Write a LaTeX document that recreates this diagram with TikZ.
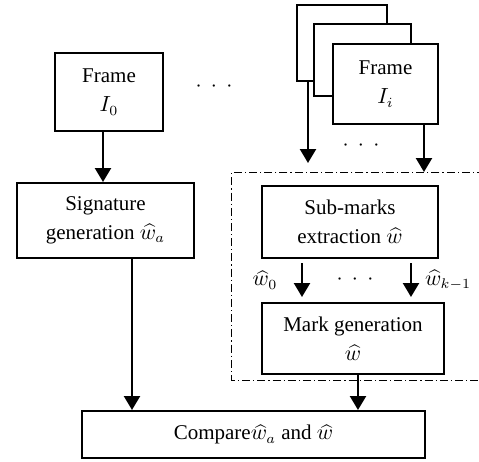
\documentclass[tikz,border=0pt]{standalone}
\usepackage{fontspec}
\setmainfont{Liberation Serif}
\usetikzlibrary{arrows.meta}
\newcommand{\mydots}{$\cdot\hspace{2.2pt}\cdot\hspace{2.2pt}\cdot$}
\begin{document}
\begin{tikzpicture}[x=0.5pt,y=-0.5pt,
  box/.style={draw,line width=1pt,fill=white,inner sep=0pt,align=center,
    font=\fontsize{10.5}{14.5}\selectfont},
  arr/.style={line width=1.2pt,-{Triangle[width=8pt,length=7pt]}},
  grp/.style={line width=0.5pt,dash pattern=on 4pt off 1.5pt on 0.6pt off 1.5pt},
  lbl/.style={inner sep=0pt,font=\fontsize{10.5}{12}\selectfont}]
\useasboundingbox (0,0) rectangle (479,462);
% group rectangle (right edge beyond picture)
\draw[grp] (485,172) -- (232,172) -- (232,380) -- (485,380);
% left column
\node[box,minimum width=54pt,minimum height=39pt] (f0) at (109,92) {Frame\\$I_0$};
\node[box,minimum width=88.5pt,minimum height=37.5pt] (sig) at (105.5,220.5) {Signature\\generation $\widehat{w}_a$};
\node[box,minimum width=171.5pt,minimum height=23.5pt] (cmp) at (253.5,434.5) {Compare$\widehat{w}_a$ and $\widehat{w}$};
% frame stack
\node[box,minimum width=45pt,minimum height=38pt] (fb) at (342,43) {};
\node[box,minimum width=48.5pt,minimum height=36pt] (fm) at (362.5,60) {};
\node[box,minimum width=52.5pt,minimum height=40pt] (fi) at (385.5,84) {Frame\\$I_i$};
% group content
\node[box,minimum width=88pt,minimum height=36pt] (sub) at (350,222) {Sub-marks\\extraction $\widehat{w}$};
\node[box,minimum width=91pt,minimum height=35.5pt] (mg) at (353,338.5) {Mark generation\\$\widehat{w}$};
% dots and labels
\node[lbl] (d1) at (214,87) {\mydots};
\node[lbl] (d2) at (361,146) {\mydots};
\node[lbl] (d3) at (355,280) {\mydots};
\node[lbl] (w0) at (265,280) {$\widehat{w}_0$};
\node[lbl] (wk) at (448,280) {$\widehat{w}_{k-1}$};
% coordinates
\coordinate (c1) at (308,163);
\coordinate (c2) at (424,172);
% connectors
\draw[arr] (f0.south -| 103,0) -- (sig.north -| 103,0);
\draw[arr] (sig.south -| 132,0) -- (cmp.north -| 132,0);
\draw[arr] (fb.south -| c1) -- (c1);
\draw[arr] (fi.south -| c2) -- (c2);
\draw[arr,shorten <=2pt,shorten >=2.5pt] (sub.south -| 302,0) -- (mg.north -| 302,0);
\draw[arr,shorten <=2pt,shorten >=2.5pt] (sub.south -| 411,0) -- (mg.north -| 411,0);
\draw[arr] (mg.south -| 358,0) -- (cmp.north -| 358,0);
\end{tikzpicture}
\end{document}
